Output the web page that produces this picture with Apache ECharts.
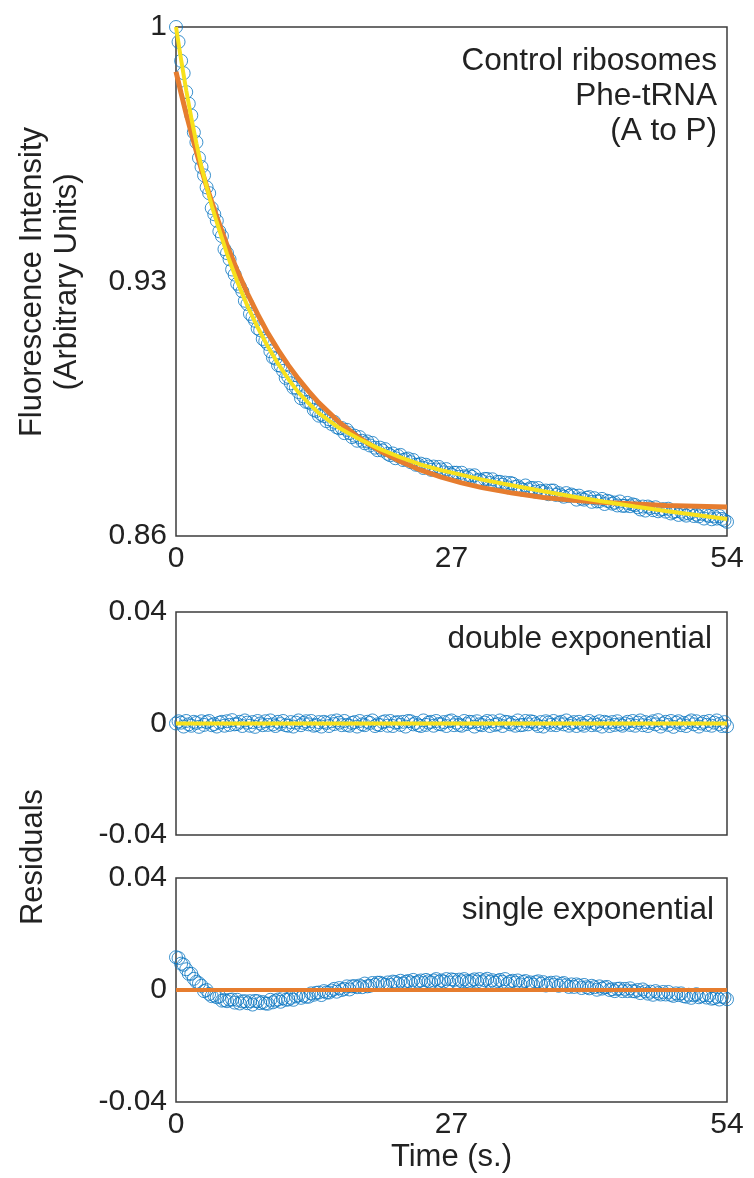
<!DOCTYPE html>
<html>
<head>
<meta charset="utf-8">
<script src="https://cdn.jsdelivr.net/npm/echarts@6/dist/echarts.min.js"></script>
<style>
  html, body { margin: 0; padding: 0; background: #fff; }
  #chart { width: 754px; height: 1178px; }
</style>
</head>
<body>
<div id="chart"></div>
<script>
// sampled time points of the measurement (s), one row per second
const dataTime = [
  0, 0.25, 0.5, 0.75, 1, 1.25, 1.5, 1.75, 2, 2.25, 2.5, 2.75, 3, 3.25, 3.5, 3.75,
  4, 4.25, 4.5, 4.75, 5, 5.25, 5.5, 5.75, 6, 6.25, 6.5, 6.75, 7, 7.25, 7.5, 7.75,
  8, 8.25, 8.5, 8.75, 9, 9.25, 9.5, 9.75, 10, 10.25, 10.5, 10.75, 11, 11.25, 11.5, 11.75,
  12, 12.25, 12.5, 12.75, 13, 13.25, 13.5, 13.75, 14, 14.25, 14.5, 14.75, 15, 15.25, 15.5, 15.75,
  16, 16.25, 16.5, 16.75, 17, 17.25, 17.5, 17.75, 18, 18.25, 18.5, 18.75, 19, 19.25, 19.5, 19.75,
  20, 20.25, 20.5, 20.75, 21, 21.25, 21.5, 21.75, 22, 22.25, 22.5, 22.75, 23, 23.25, 23.5, 23.75,
  24, 24.25, 24.5, 24.75, 25, 25.25, 25.5, 25.75, 26, 26.25, 26.5, 26.75, 27, 27.25, 27.5, 27.75,
  28, 28.25, 28.5, 28.75, 29, 29.25, 29.5, 29.75, 30, 30.25, 30.5, 30.75, 31, 31.25, 31.5, 31.75,
  32, 32.25, 32.5, 32.75, 33, 33.25, 33.5, 33.75, 34, 34.25, 34.5, 34.75, 35, 35.25, 35.5, 35.75,
  36, 36.25, 36.5, 36.75, 37, 37.25, 37.5, 37.75, 38, 38.25, 38.5, 38.75, 39, 39.25, 39.5, 39.75,
  40, 40.25, 40.5, 40.75, 41, 41.25, 41.5, 41.75, 42, 42.25, 42.5, 42.75, 43, 43.25, 43.5, 43.75,
  44, 44.25, 44.5, 44.75, 45, 45.25, 45.5, 45.75, 46, 46.25, 46.5, 46.75, 47, 47.25, 47.5, 47.75,
  48, 48.25, 48.5, 48.75, 49, 49.25, 49.5, 49.75, 50, 50.25, 50.5, 50.75, 51, 51.25, 51.5, 51.75,
  52, 52.25, 52.5, 52.75, 53, 53.25, 53.5, 53.75, 54
];

// fluorescence intensity (arbitrary units)
const intensity = [
  1.0000, 0.9959, 0.9907, 0.9873, 0.9821, 0.9789, 0.9757, 0.9710, 0.9683, 0.9640, 0.9615, 0.9592, 0.9559, 0.9543, 0.9502, 0.9485,
  0.9467, 0.9438, 0.9425, 0.9389, 0.9378, 0.9361, 0.9333, 0.9319, 0.9294, 0.9286, 0.9273, 0.9247, 0.9238, 0.9211, 0.9203, 0.9192,
  0.9171, 0.9166, 0.9142, 0.9136, 0.9128, 0.9108, 0.9091, 0.9088, 0.9070, 0.9068, 0.9054, 0.9035, 0.9038, 0.9020, 0.9008, 0.9008,
  0.8996, 0.8979, 0.8984, 0.8969, 0.8968, 0.8964, 0.8947, 0.8944, 0.8931, 0.8934, 0.8930, 0.8916, 0.8921, 0.8908, 0.8914, 0.8899,
  0.8896, 0.8897, 0.8883, 0.8892, 0.8883, 0.8872, 0.8876, 0.8862, 0.8872, 0.8862, 0.8855, 0.8860, 0.8849, 0.8856, 0.8843, 0.8836,
  0.8843, 0.8835, 0.8839, 0.8826, 0.8822, 0.8827, 0.8814, 0.8820, 0.8823, 0.8809, 0.8811, 0.8813, 0.8803, 0.8809, 0.8796, 0.8796,
  0.8799, 0.8787, 0.8796, 0.8791, 0.8782, 0.8791, 0.8783, 0.8790, 0.8783, 0.8775, 0.8784, 0.8773, 0.8769, 0.8774, 0.8774, 0.8763,
  0.8774, 0.8764, 0.8761, 0.8767, 0.8763, 0.8767, 0.8753, 0.8755, 0.8751, 0.8757, 0.8757, 0.8746, 0.8756, 0.8742, 0.8749, 0.8749,
  0.8741, 0.8747, 0.8734, 0.8746, 0.8744, 0.8735, 0.8737, 0.8731, 0.8727, 0.8739, 0.8728, 0.8732, 0.8732, 0.8722, 0.8732, 0.8724,
  0.8721, 0.8725, 0.8715, 0.8725, 0.8725, 0.8713, 0.8718, 0.8712, 0.8708, 0.8718, 0.8710, 0.8714, 0.8711, 0.8700, 0.8711, 0.8703,
  0.8700, 0.8705, 0.8707, 0.8694, 0.8704, 0.8695, 0.8696, 0.8702, 0.8688, 0.8697, 0.8695, 0.8689, 0.8692, 0.8684, 0.8695, 0.8683,
  0.8683, 0.8691, 0.8682, 0.8687, 0.8685, 0.8679, 0.8673, 0.8681, 0.8670, 0.8681, 0.8677, 0.8671, 0.8679, 0.8668, 0.8672, 0.8674,
  0.8667, 0.8675, 0.8662, 0.8666, 0.8668, 0.8658, 0.8667, 0.8661, 0.8656, 0.8662, 0.8665, 0.8655, 0.8659, 0.8654, 0.8661, 0.8648,
  0.8658, 0.8655, 0.8646, 0.8654, 0.8648, 0.8655, 0.8647, 0.8643, 0.8639
];

// residuals of the double exponential fit
const residDouble = [
  0.0000, 0.0008, 0.0003, -0.0011, 0.0009, -0.0003, -0.0008, 0.0006, 0.0002, -0.0012, 0.0008, -0.0005, 0.0005, 0.0009, -0.0006, -0.0002,
  -0.0011, 0.0003, 0.0006, -0.0008, 0.0008, -0.0005, 0.0012, -0.0003, -0.0002, 0.0006, -0.0009, 0.0011, 0.0003, -0.0008, 0.0005, -0.0012,
  0.0009, 0.0000, -0.0006, 0.0008, -0.0005, 0.0011, -0.0003, -0.0009, 0.0006, -0.0002, 0.0009, -0.0006, -0.0008, 0.0005, -0.0011, 0.0003,
  0.0011, -0.0006, 0.0002, 0.0008, -0.0003, 0.0009, -0.0008, -0.0005, 0.0005, -0.0011, 0.0006, 0.0002, -0.0009, 0.0008, -0.0002, 0.0011,
  0.0003, -0.0006, 0.0009, -0.0005, -0.0008, 0.0002, 0.0005, -0.0011, 0.0009, -0.0003, -0.0006, 0.0006, 0.0002, 0.0011, -0.0009, -0.0003,
  -0.0006, 0.0005, 0.0008, -0.0008, 0.0009, -0.0009, 0.0003, 0.0005, -0.0005, 0.0006, -0.0011, 0.0009, 0.0008, -0.0003, 0.0002, -0.0006,
  -0.0009, 0.0011, -0.0005, 0.0003, 0.0006, -0.0008, 0.0009, -0.0002, -0.0003, 0.0005, -0.0009, 0.0008, 0.0011, -0.0006, 0.0003, -0.0005,
  -0.0008, 0.0009, -0.0002, 0.0006, 0.0005, -0.0011, 0.0008, -0.0003, -0.0006, 0.0003, 0.0009, -0.0009, 0.0008, -0.0005, -0.0002, 0.0011,
  -0.0009, 0.0006, 0.0005, -0.0003, 0.0003, -0.0008, 0.0011, -0.0006, -0.0005, 0.0009, -0.0003, 0.0008, 0.0006, -0.0002, -0.0009, 0.0005,
  -0.0011, 0.0008, 0.0003, -0.0005, 0.0009, -0.0006, 0.0002, 0.0006, -0.0003, 0.0011, -0.0008, 0.0000, 0.0005, -0.0009, 0.0006, -0.0002,
  -0.0008, 0.0003, 0.0009, -0.0006, 0.0002, -0.0005, 0.0008, -0.0011, 0.0006, 0.0003, -0.0009, 0.0005, -0.0005, 0.0008, -0.0003, -0.0008,
  0.0000, 0.0006, -0.0005, 0.0009, -0.0008, 0.0003, 0.0011, -0.0006, 0.0005, -0.0009, 0.0002, 0.0008, -0.0003, 0.0012, -0.0011, 0.0000,
  0.0006, -0.0005, 0.0009, -0.0012, 0.0003, 0.0008, -0.0006, 0.0002, -0.0009, 0.0005, 0.0011, -0.0003, 0.0008, -0.0011, 0.0000, 0.0006,
  -0.0005, 0.0009, -0.0008, 0.0003, 0.0011, -0.0002, -0.0009, 0.0005, -0.0010
];

// residuals of the single exponential fit
const residSingle = [
  0.0117, 0.0114, 0.0094, 0.0090, 0.0074, 0.0058, 0.0058, 0.0040, 0.0029, 0.0024, 0.0015, -0.0004, 0.0000, -0.0014, -0.0022, -0.0019,
  -0.0026, -0.0023, -0.0038, -0.0036, -0.0040, -0.0035, -0.0034, -0.0045, -0.0035, -0.0048, -0.0041, -0.0040, -0.0047, -0.0040, -0.0052, -0.0039,
  -0.0040, -0.0047, -0.0043, -0.0048, -0.0049, -0.0035, -0.0044, -0.0038, -0.0034, -0.0042, -0.0029, -0.0035, -0.0034, -0.0028, -0.0035, -0.0023,
  -0.0019, -0.0028, -0.0020, -0.0024, -0.0024, -0.0012, -0.0017, -0.0010, -0.0009, -0.0018, -0.0004, -0.0009, -0.0009, -0.0002, 0.0004, -0.0006,
  0.0007, 0.0000, 0.0004, 0.0013, 0.0002, 0.0013, 0.0014, 0.0010, 0.0016, 0.0010, 0.0023, 0.0013, 0.0015, 0.0025, 0.0018, 0.0026,
  0.0026, 0.0022, 0.0018, 0.0027, 0.0018, 0.0030, 0.0028, 0.0023, 0.0033, 0.0023, 0.0029, 0.0032, 0.0027, 0.0036, 0.0025, 0.0030,
  0.0034, 0.0025, 0.0036, 0.0031, 0.0027, 0.0034, 0.0039, 0.0029, 0.0034, 0.0030, 0.0039, 0.0027, 0.0038, 0.0036, 0.0028, 0.0037,
  0.0031, 0.0039, 0.0032, 0.0029, 0.0034, 0.0038, 0.0030, 0.0039, 0.0028, 0.0035, 0.0040, 0.0029, 0.0035, 0.0026, 0.0032, 0.0036,
  0.0029, 0.0039, 0.0023, 0.0030, 0.0033, 0.0026, 0.0034, 0.0020, 0.0029, 0.0032, 0.0022, 0.0027, 0.0019, 0.0028, 0.0031, 0.0022,
  0.0028, 0.0016, 0.0022, 0.0026, 0.0018, 0.0027, 0.0015, 0.0022, 0.0025, 0.0017, 0.0011, 0.0020, 0.0011, 0.0020, 0.0016, 0.0007,
  0.0018, 0.0010, 0.0006, 0.0015, 0.0010, 0.0001, 0.0013, 0.0005, 0.0009, 0.0011, 0.0000, 0.0003, -0.0004, 0.0004, 0.0005, -0.0004,
  0.0004, -0.0004, 0.0006, -0.0004, -0.0005, 0.0000, -0.0011, 0.0002, -0.0005, -0.0013, -0.0006, -0.0017, -0.0004, -0.0011, -0.0016, -0.0007,
  -0.0016, -0.0007, -0.0017, -0.0021, -0.0012, -0.0018, -0.0012, -0.0022, -0.0024, -0.0017, -0.0028, -0.0019, -0.0015, -0.0026, -0.0022, -0.0018,
  -0.0027, -0.0019, -0.0031, -0.0029, -0.0024, -0.0034, -0.0024, -0.0027, -0.0033
];

// fitted curves
const fitTime = [0, 0.5, 1, 1.5, 2, 2.5, 3, 3.5, 4, 5, 6, 7, 8, 9, 10, 11, 12, 13, 14, 16, 18, 20, 22, 24, 26, 28, 30, 33, 36, 39, 42, 45, 48, 51, 54];
const doubleFit = [
  1.0000, 0.9910, 0.9826, 0.9750, 0.9680, 0.9614, 0.9561, 0.9509, 0.9463, 0.9376, 0.9300, 0.9233,
  0.9174, 0.9121, 0.9074, 0.9032, 0.8995, 0.8965, 0.8938, 0.8897, 0.8866, 0.8839, 0.8816, 0.8796,
  0.8781, 0.8768, 0.8755, 0.8739, 0.8723, 0.8708, 0.8694, 0.8681, 0.8669, 0.8658, 0.8647
];
const singleFit = [
  0.9877, 0.9818, 0.9761, 0.9708, 0.9657, 0.9608, 0.9562, 0.9519, 0.9477, 0.9400, 0.9330, 0.9267,
  0.9210, 0.9158, 0.9112, 0.9070, 0.9032, 0.8998, 0.8966, 0.8913, 0.8869, 0.8834, 0.8805, 0.8781,
  0.8762, 0.8746, 0.8733, 0.8718, 0.8706, 0.8698, 0.8692, 0.8688, 0.8684, 0.8682, 0.8680
];
const zeroTime = [0, 54];
const zeroLine = [0, 0];

const xTicks = { min: 0, max: 54, interval: 27 };
const intensityTicks = [0.86, 0.93, 1];

const FONT = '"Liberation Sans", Arial, Helvetica, sans-serif';
const TEXT = '#222';
const BLUE = '#0a76c0';
const ORANGE = '#e67d2f';
const YELLOW = '#f7e11c';

const zip = (xs, ys) => xs.map((x, i) => [x, ys[i]]);

const chart = echarts.init(document.getElementById('chart'), null, { renderer: 'canvas' });

const gridBox = { show: true, borderColor: '#3c3c3c', borderWidth: 1.5, backgroundColor: 'transparent' };

function xAxis(gridIndex, showLabels, name) {
  return {
    gridIndex, type: 'value', ...xTicks,
    axisLine: { show: false }, axisTick: { show: false }, splitLine: { show: false },
    axisLabel: { show: showLabels, fontSize: 30, color: TEXT, fontFamily: FONT, margin: 8 },
    name: name || '', nameLocation: 'middle', nameGap: 40,
    nameTextStyle: { fontSize: 31, color: TEXT, fontFamily: FONT }
  };
}

function residAxis(gridIndex) {
  return {
    gridIndex, type: 'value', min: -0.04, max: 0.04, interval: 0.04,
    axisLine: { show: false }, axisTick: { show: false }, splitLine: { show: false },
    axisLabel: { fontSize: 30, color: TEXT, fontFamily: FONT, margin: 9 }
  };
}

function dataScatter(xi, yi, values) {
  return {
    type: 'scatter', xAxisIndex: xi, yAxisIndex: yi, clip: false,
    symbol: 'circle', symbolSize: 13,
    itemStyle: { color: 'rgba(0,0,0,0)', borderColor: BLUE, borderWidth: 1 },
    data: zip(dataTime, values), z: 2
  };
}

function fitLine(xi, yi, xs, ys, color, width, z) {
  return {
    type: 'line', xAxisIndex: xi, yAxisIndex: yi, showSymbol: false, smooth: false,
    lineStyle: { color, width }, data: zip(xs, ys), z
  };
}

chart.setOption({
  animation: false,
  textStyle: { fontFamily: FONT },
  grid: [
    { left: 176, top: 27, width: 551, height: 509, ...gridBox },
    { left: 176, top: 612, width: 551, height: 223, ...gridBox },
    { left: 176, top: 878, width: 551, height: 224, ...gridBox }
  ],
  xAxis: [xAxis(0, true), xAxis(1, false), xAxis(2, true, 'Time (s.)')],
  yAxis: [
    {
      gridIndex: 0, type: 'value', min: 0.86, max: 1,
      axisLine: { show: false }, axisTick: { show: false }, splitLine: { show: false },
      axisLabel: { customValues: intensityTicks, fontSize: 30, color: TEXT, fontFamily: FONT, margin: 9 }
    },
    residAxis(1),
    residAxis(2)
  ],
  series: [
    dataScatter(0, 0, intensity),
    fitLine(0, 0, fitTime, singleFit, ORANGE, 5, 3),
    fitLine(0, 0, fitTime, doubleFit, YELLOW, 4, 4),
    dataScatter(1, 1, residDouble),
    fitLine(1, 1, zeroTime, zeroLine, YELLOW, 4, 4),
    dataScatter(2, 2, residSingle),
    fitLine(2, 2, zeroTime, zeroLine, ORANGE, 4, 4)
  ],
  graphic: [
    {
      type: 'text', right: 37, top: 44,
      style: { text: 'Control ribosomes\nPhe-tRNA\n(A to P)', font: '31.5px ' + FONT, fill: TEXT, textAlign: 'right', align: 'right', lineHeight: 35 }
    },
    {
      type: 'text', right: 42, top: 623,
      style: { text: 'double exponential', font: '31.5px ' + FONT, fill: TEXT, textAlign: 'right', align: 'right' }
    },
    {
      type: 'text', right: 40, top: 894,
      style: { text: 'single exponential', font: '31.5px ' + FONT, fill: TEXT, textAlign: 'right', align: 'right' }
    },
    {
      type: 'text', x: 50, y: 282, rotation: Math.PI / 2,
      style: {
        text: 'Fluorescence Intensity\n(Arbitrary Units)', font: '31px ' + FONT, fill: TEXT,
        textAlign: 'center', align: 'center', textVerticalAlign: 'middle', verticalAlign: 'middle', lineHeight: 35
      }
    },
    {
      type: 'text', x: 33, y: 857, rotation: Math.PI / 2,
      style: {
        text: 'Residuals', font: '31px ' + FONT, fill: TEXT,
        textAlign: 'center', align: 'center', textVerticalAlign: 'middle', verticalAlign: 'middle'
      }
    }
  ]
});

window.addEventListener('resize', () => chart.resize());
</script>
</body>
</html>
